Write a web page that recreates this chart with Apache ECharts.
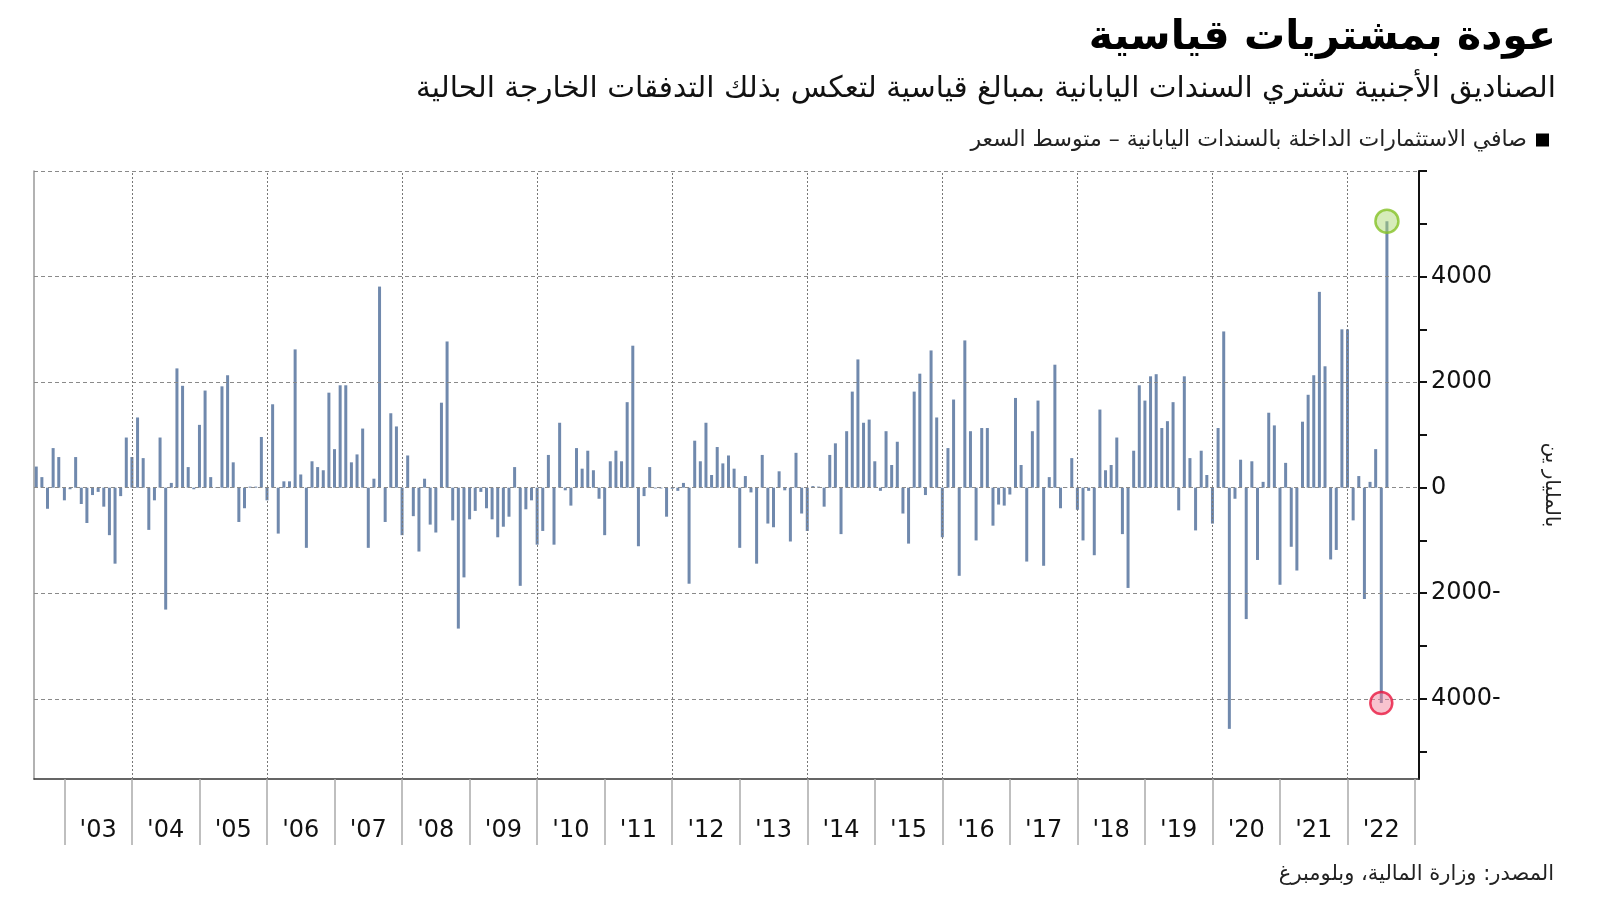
<!DOCTYPE html>
<html>
<head>
<meta charset="utf-8">
<script src="https://cdn.jsdelivr.net/npm/echarts@6/dist/echarts.min.js"></script>
<style>
html,body{margin:0;padding:0;background:#fff;}
#chart{width:1600px;height:901px;}
</style>
</head>
<body>
<div id="chart"></div>
<script>
// Monthly net inflows into Japanese bonds (billion yen), first bar = 5 months before Jan 2003
const firstMonthOffset = -5;
const values = [
  400, 200, -400, 750, 580, -240, -30, 580, -310, -670,
  -140, -80, -360, -900, -1440, -160, 950, 580, 1330, 560,
  -800, -240, 950, -2310, 90, 2260, 1930, 390, -30, 1190,
  1840, 200, 10, 1920, 2130, 480, -650, -390, 20, 20,
  960, -240, 1580, -870, 120, 120, 2620, 250, -1140, 500,
  390, 330, 1800, 730, 1940, 1940, 480, 630, 1120, -1140,
  170, 3810, -650, 1410, 1160, -900, 610, -540, -1210, 170,
  -700, -850, 1610, 2770, -620, -2670, -1700, -600, -440, -80,
  -390, -600, -940, -740, -550, 390, -1860, -410, -240, -1080,
  -820, 620, -1080, 1230, -50, -340, 750, 360, 700, 330,
  -210, -900, 500, 700, 500, 1620, 2690, -1110, -160, 390,
  -15, -15, -550, -20, -60, 90, -1820, 890, 500, 1230,
  240, 770, 460, 610, 360, -1140, 220, -90, -1440, 620,
  -680, -750, 310, -50, -1020, 660, -490, -820, 30, 20,
  -360, 620, 840, -880, 1070, 1820, 2430, 1230, 1290, 500,
  -60, 1070, 430, 870, -490, -1060, 1820, 2160, -140, 2600,
  1330, -940, 750, 1670, -1670, 2790, 1070, -1000, 1130, 1130,
  -720, -320, -340, -130, 1700, 430, -1400, 1070, 1650, -1480,
  200, 2330, -390, 10, 560, -420, -1000, -60, -1280, 1480,
  330, 430, 950, -880, -1900, 700, 1940, 1650, 2110, 2150,
  1130, 1260, 1620, -430, 2110, 560, -810, 700, 240, -680,
  1130, 2960, -4570, -210, 530, -2490, 500, -1370, 110, 1420,
  1180, -1840, 470, -1120, -1570, 1250, 1760, 2130, 3710, 2300,
  -1360, -1180, 3000, 3000, -620, 220, -2110, 110, 730, -4080, 5050
];
const yearLabels = ["'03","'04","'05","'06","'07","'08","'09","'10","'11","'12","'13","'14","'15","'16","'17","'18","'19","'20","'21","'22"];
const yLabelValues = [-4000, -2000, 0, 2000, 4000];
const yTickValues = [-5000, -4000, -3000, -2000, -1000, 0, 1000, 2000, 3000, 4000, 5000, 6000];
const hGridValues = [-4000, -2000, 0, 2000, 4000, 6000];
const vGridYears = [2004, 2006, 2008, 2010, 2012, 2014, 2016, 2018, 2020, 2022];

const titleText = 'عودة بمشتريات قياسية';
const subtitleText = 'الصناديق الأجنبية تشتري السندات اليابانية بمبالغ قياسية لتعكس بذلك التدفقات الخارجة الحالية';
const legendText = 'صافي الاستثمارات الداخلة بالسندات اليابانية – متوسط السعر';
const sourceText = 'المصدر: وزارة المالية، وبلومبرغ';
const unitText = 'بالمليار ين';

const FONT = 'DejaVu Sans';
const points = values.map((v, i) => [i + firstMonthOffset, v]);
// highlighted: the latest record outflow and the latest record inflow (last two months)
const iOut = values.length - 2;
const iIn = values.length - 1;

const xTicks = yearLabels.map((_, i) => i * 12).concat([yearLabels.length * 12]);
const xLabelPos = yearLabels.map((_, i) => i * 12 + 6);

const chart = echarts.init(document.getElementById('chart'), null, {renderer: 'canvas'});
chart.setOption({
  animation: false,
  backgroundColor: '#fff',
  grid: {left: 34, right: 181, top: 171, bottom: 122, containLabel: false},
  legend: {
    right: 46, top: 124, align: 'right', icon: 'rect', itemWidth: 13, itemHeight: 13,
    data: [{name: legendText, itemStyle: {color: '#000'}}],
    textStyle: {fontFamily: FONT, fontSize: 22, color: '#222', padding: [0, 4, 0, 0]},
    selectedMode: false
  },
  graphic: [
    {type: 'text', right: 44, top: 18, style: {text: titleText, font: 'bold 41px "' + FONT + '"', fill: '#000'}},
    {type: 'text', right: 44, top: 74, style: {text: subtitleText, font: '29.5px "' + FONT + '"', fill: '#111'}},
    {type: 'text', right: 46, top: 864, style: {text: sourceText, font: '21px "' + FONT + '"', fill: '#222'}},
    {type: 'text', x: 1551, y: 485, rotation: -Math.PI / 2,
     style: {text: unitText, font: '20px "' + FONT + '"', fill: '#222', align: 'center', verticalAlign: 'middle'}}
  ],
  xAxis: {
    type: 'value', min: -5.4, max: 240.7,
    axisLine: {show: true, onZero: false, lineStyle: {color: '#333', width: 1.5}},
    axisTick: {show: true, customValues: xTicks, length: 66, lineStyle: {color: '#aaa', width: 1.5}},
    axisLabel: {show: true, customValues: xLabelPos, margin: 40, fontFamily: FONT, fontSize: 24, color: '#111',
      formatter: v => yearLabels[Math.round((v - 6) / 12)]},
    splitLine: {show: false}
  },
  yAxis: [{
    type: 'value', position: 'right', min: -5520, max: 6000,
    axisLine: {show: true, onZero: false, lineStyle: {color: '#111', width: 2}},
    axisTick: {show: true, customValues: yTickValues, length: 8, lineStyle: {color: '#111', width: 2}},
    axisLabel: {show: true, customValues: yLabelValues, margin: 12, fontFamily: FONT, fontSize: 24, color: '#111',
      formatter: v => v < 0 ? Math.abs(v) + '-' : String(v)},
    splitLine: {show: false}
  }, {
    type: 'value', position: 'left', min: -5520, max: 6000,
    axisLine: {show: true, onZero: false, lineStyle: {color: '#999', width: 1.5}},
    axisTick: {show: false}, axisLabel: {show: false}, splitLine: {show: false}
  }],
  series: [{
    name: legendText, type: 'bar', data: points, barWidth: 3, yAxisIndex: 0,
    itemStyle: {color: '#7089ad'},
    markLine: {
      silent: true, symbol: ['none', 'none'], label: {show: false},
      data: hGridValues.map(y => ({yAxis: y, lineStyle: {color: '#8a8a8a', type: [4, 3], width: 1}}))
        .concat(vGridYears.map(yr => ({xAxis: (yr - 2003) * 12, lineStyle: {color: '#777', type: [2, 2], width: 1}})))
    }
  }, {
    type: 'scatter', yAxisIndex: 0, z: 5, symbolSize: 23,
    data: [[iIn + firstMonthOffset, values[iIn]]],
    itemStyle: {color: 'rgba(170,215,110,0.6)', borderColor: '#84c225', borderWidth: 2.5}
  }, {
    type: 'scatter', yAxisIndex: 0, z: 5, symbolSize: 22,
    data: [[iOut + firstMonthOffset, values[iOut]]],
    itemStyle: {color: 'rgba(240,130,155,0.6)', borderColor: '#e8173f', borderWidth: 2.5}
  }]
});
</script>
</body>
</html>
